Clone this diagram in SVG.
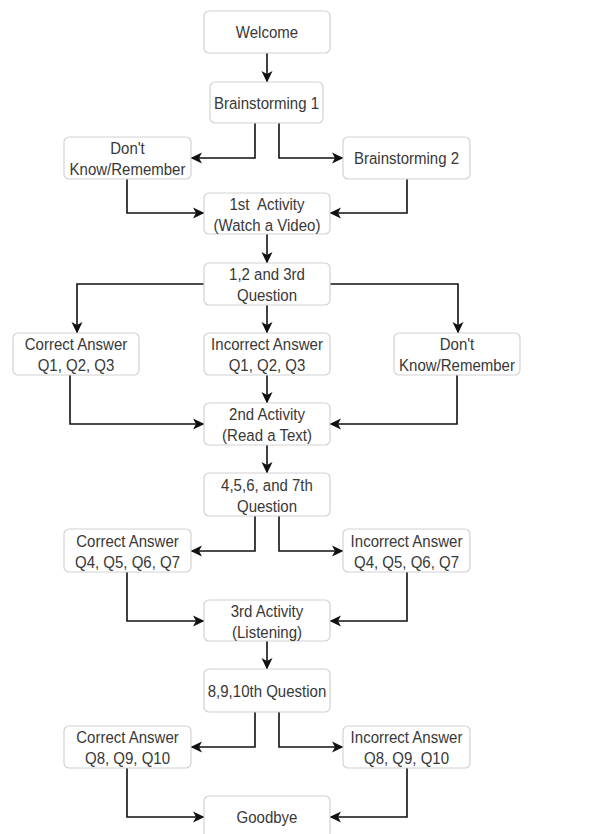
<svg xmlns="http://www.w3.org/2000/svg" width="609" height="834" viewBox="0 0 609 834">
<style>
.box{fill:#fff;stroke:#d2d2d2;stroke-width:1.2}
.t{font-family:"Liberation Sans",Arial,sans-serif;font-size:16.5px;fill:#383838;text-anchor:middle}
.c{fill:none;stroke:#111;stroke-width:1.6;marker-end:url(#ah)}
</style>
<defs>
<marker id="ah" markerUnits="userSpaceOnUse" markerWidth="12" markerHeight="12" viewBox="0 0 12 12" refX="11" refY="6" orient="auto">
<path d="M0,0.5 L11.5,6 L0,11.5 L3,6 z" fill="#111"/>
</marker>
</defs>
<rect width="609" height="834" fill="#fff"/>
<g id="connectors">
<path class="c" d="M267,53 V82"/>
<path class="c" d="M255,123 V158 H191"/>
<path class="c" d="M279,123 V158 H343"/>
<path class="c" d="M127,179 V213 H204"/>
<path class="c" d="M407,179 V213 H330"/>
<path class="c" d="M267,234 V263"/>
<path class="c" d="M204,284 H77 V333"/>
<path class="c" d="M267,305 V333"/>
<path class="c" d="M330,284 H458 V333"/>
<path class="c" d="M70,375 V424 H204"/>
<path class="c" d="M267,375 V403"/>
<path class="c" d="M457,375 V424 H330"/>
<path class="c" d="M267,445 V473"/>
<path class="c" d="M255,516 V551 H191"/>
<path class="c" d="M279,516 V551 H343"/>
<path class="c" d="M127,572 V621 H204"/>
<path class="c" d="M407,572 V621 H330"/>
<path class="c" d="M267,641 V669"/>
<path class="c" d="M255,712 V747 H191"/>
<path class="c" d="M279,712 V747 H343"/>
<path class="c" d="M127,768 V817 H204"/>
<path class="c" d="M407,768 V817 H330"/>
</g>
<g id="welcome"><rect class="box" x="204" y="11" width="126" height="42" rx="5"/><text class="t" transform="translate(267 37.5) scale(0.91 1)">Welcome</text></g>
<g id="brainstorming1"><rect class="box" x="210" y="82" width="113" height="41" rx="5"/><text class="t" transform="translate(266.5 108.5) scale(0.91 1)">Brainstorming 1</text></g>
<g id="dontknow1"><rect class="box" x="64" y="137" width="127" height="42" rx="5"/><text class="t" transform="translate(127.5 154) scale(0.91 1)">Don't</text><text class="t" transform="translate(127.5 175) scale(0.91 1)">Know/Remember</text></g>
<g id="brainstorming2"><rect class="box" x="343" y="137" width="127" height="42" rx="5"/><text class="t" transform="translate(406.5 164) scale(0.91 1)">Brainstorming 2</text></g>
<g id="activity1"><rect class="box" x="204" y="193" width="126" height="41" rx="5"/><text class="t" xml:space="preserve" transform="translate(267 209.5) scale(0.91 1)">1st  Activity</text><text class="t" transform="translate(267 230.5) scale(0.91 1)">(Watch a Video)</text></g>
<g id="question123"><rect class="box" x="204" y="263" width="126" height="42" rx="5"/><text class="t" transform="translate(267 280) scale(0.91 1)">1,2 and 3rd</text><text class="t" transform="translate(267 301) scale(0.91 1)">Question</text></g>
<g id="correct1"><rect class="box" x="13" y="333" width="126" height="42" rx="5"/><text class="t" transform="translate(76 350) scale(0.91 1)">Correct Answer</text><text class="t" transform="translate(76 371) scale(0.91 1)">Q1, Q2, Q3</text></g>
<g id="incorrect1"><rect class="box" x="204" y="333" width="126" height="42" rx="5"/><text class="t" transform="translate(267 350) scale(0.91 1)">Incorrect Answer</text><text class="t" transform="translate(267 371) scale(0.91 1)">Q1, Q2, Q3</text></g>
<g id="dontknow2"><rect class="box" x="394" y="333" width="126" height="42" rx="5"/><text class="t" transform="translate(457 350) scale(0.91 1)">Don't</text><text class="t" transform="translate(457 371) scale(0.91 1)">Know/Remember</text></g>
<g id="activity2"><rect class="box" x="204" y="403" width="126" height="42" rx="5"/><text class="t" transform="translate(267 420) scale(0.91 1)">2nd Activity</text><text class="t" transform="translate(267 441) scale(0.91 1)">(Read a Text)</text></g>
<g id="question4567"><rect class="box" x="204" y="473" width="126" height="43" rx="5"/><text class="t" transform="translate(267 490.5) scale(0.91 1)">4,5,6, and 7th</text><text class="t" transform="translate(267 511.5) scale(0.91 1)">Question</text></g>
<g id="correct2"><rect class="box" x="64" y="529" width="127" height="43" rx="5"/><text class="t" transform="translate(127.5 546.5) scale(0.91 1)">Correct Answer</text><text class="t" transform="translate(127.5 567.5) scale(0.91 1)">Q4, Q5, Q6, Q7</text></g>
<g id="incorrect2"><rect class="box" x="343" y="529" width="127" height="43" rx="5"/><text class="t" transform="translate(406.5 546.5) scale(0.91 1)">Incorrect Answer</text><text class="t" transform="translate(406.5 567.5) scale(0.91 1)">Q4, Q5, Q6, Q7</text></g>
<g id="activity3"><rect class="box" x="204" y="600" width="126" height="41" rx="5"/><text class="t" transform="translate(267 616.5) scale(0.91 1)">3rd Activity</text><text class="t" transform="translate(267 637.5) scale(0.91 1)">(Listening)</text></g>
<g id="question8910"><rect class="box" x="204" y="669" width="126" height="43" rx="5"/><text class="t" transform="translate(267 696.5) scale(0.91 1)">8,9,10th Question</text></g>
<g id="correct3"><rect class="box" x="64" y="726" width="127" height="42" rx="5"/><text class="t" transform="translate(127.5 743) scale(0.91 1)">Correct Answer</text><text class="t" transform="translate(127.5 764) scale(0.91 1)">Q8, Q9, Q10</text></g>
<g id="incorrect3"><rect class="box" x="343" y="726" width="127" height="42" rx="5"/><text class="t" transform="translate(406.5 743) scale(0.91 1)">Incorrect Answer</text><text class="t" transform="translate(406.5 764) scale(0.91 1)">Q8, Q9, Q10</text></g>
<g id="goodbye"><rect class="box" x="204" y="796" width="126" height="42" rx="5"/><text class="t" transform="translate(267 823) scale(0.91 1)">Goodbye</text></g>
</svg>
